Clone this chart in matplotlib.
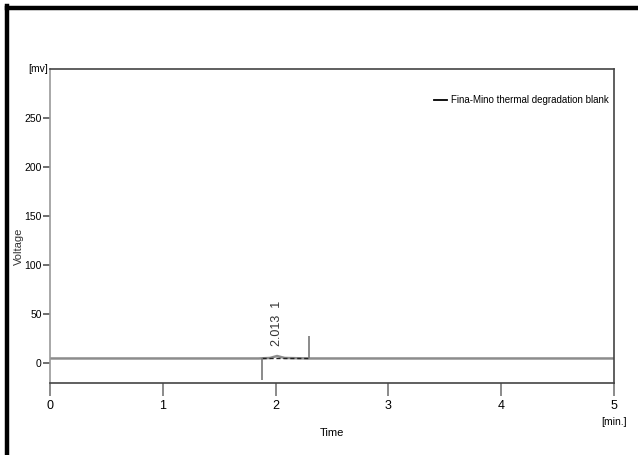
import matplotlib.pyplot as plt
from matplotlib import font_manager

# chromatogram trace (min, mV)
time = [0.0, 1.85, 1.95, 2.013, 2.08, 2.30, 5.0]
voltage = [5.0, 5.0, 5.5, 7.5, 5.5, 5.0, 5.0]

# integration baseline and event marks
base_time = [1.88, 2.30]
base_volt = [5.0, 5.0]
mark_start = (1.88, -17, 5)
mark_end = (2.30, 5, 28)

peak_time = 2.013
peak_label = "2.013  1"
series_name = "Fina-Mino thermal degradation blank"

x_ticks = [0, 1, 2, 3, 4, 5]
y_ticks = [0, 50, 100, 150, 200, 250]

names = {f.name for f in font_manager.fontManager.ttflist}
narrow = "Liberation Sans Narrow" if "Liberation Sans Narrow" in names else "Liberation Sans"
plt.rcParams["font.family"] = [narrow, "DejaVu Sans"]

fig = plt.figure(figsize=(6.38, 4.55), dpi=100)
ax = fig.add_axes([50 / 638, 1 - 383 / 455, 564 / 638, 314 / 455])

ax.plot(time, voltage, color="#8c8c8c", lw=1.8, label=series_name)
ax.plot(base_time, base_volt, color="#222222", lw=1.0, ls=(0, (3, 2)))
ax.vlines(mark_start[0], mark_start[1], mark_start[2], color="#777777", lw=1.2)
ax.vlines(mark_end[0], mark_end[1], mark_end[2], color="#777777", lw=1.2)
ax.text(peak_time, 18, peak_label, rotation=90, ha="center", va="bottom",
        fontsize=9, family=["Liberation Sans", "DejaVu Sans"], color="#333333")

ax.set_xlim(0, 5)
ax.set_ylim(-20, 300)
ax.set_xticks(x_ticks)
ax.set_yticks(y_ticks)
ax.set_xticklabels([str(v) for v in x_ticks])
ax.tick_params(axis="x", direction="out", length=9, width=1.2, color="#777777",
               labelsize=9, pad=3)
ax.tick_params(axis="y", direction="out", length=5, width=1.2, color="#555555",
               labelsize=7.5, pad=1)

ax.spines["left"].set_color("#999999")
ax.spines["left"].set_linewidth(1.2)
for s in ["top", "right", "bottom"]:
    ax.spines[s].set_color("#444444")
    ax.spines[s].set_linewidth(1.2)

ax.set_xlabel("Time", fontsize=8, labelpad=12)
ax.text(-0.003, 1.0, "[mv]", transform=ax.transAxes, ha="right", va="center", fontsize=7.5)
ax.text(1.0, -0.125, "[min.]", transform=ax.transAxes, ha="center", va="center", fontsize=7.5)
fig.text(19 / 638, 1 - 246 / 455, "Voltage", rotation=90, ha="center", va="center",
         fontsize=8, family=["Liberation Sans", "DejaVu Sans"], color="#333333")

leg = ax.legend(loc="center right", bbox_to_anchor=(1.0, 0.9), frameon=False,
                handlelength=1.3, handletextpad=0.5, borderaxespad=0.1, fontsize=7)
for h in leg.get_lines():
    h.set_color("black")
    h.set_linewidth(1.3)

# thick frame on the top and left edges
fig.add_artist(plt.Line2D([7 / 638, 7 / 638], [0, 1 - 6 / 455], color="black", lw=3.2,
                          transform=fig.transFigure, solid_capstyle="projecting"))
fig.add_artist(plt.Line2D([7 / 638, 1], [1 - 8 / 455, 1 - 8 / 455], color="black", lw=3.2,
                          transform=fig.transFigure))

fig.savefig("out.png", dpi=100)
